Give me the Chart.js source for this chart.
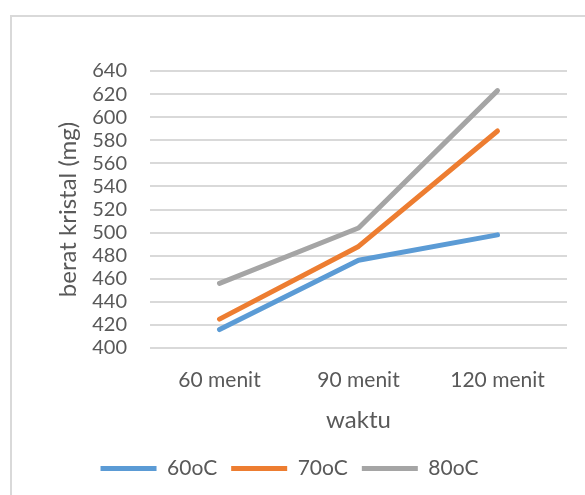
<!DOCTYPE html>
<html>
<head>
<meta charset="utf-8">
<script src="https://cdn.jsdelivr.net/npm/chart.js@4"></script>
<style>
  html, body { margin: 0; padding: 0; background: #fff; overflow: hidden; }
  body { width: 585px; height: 495px; position: relative; }
  .frame { position: absolute; left: 10px; top: 15px; width: 600px; height: 500px; border: 2px solid #d9d9d9; box-sizing: border-box; }
  .wrap { position: absolute; left: 12px; top: 17px; width: 592px; height: 478px; }
</style>
</head>
<body>
<div class="frame"></div>
<div class="wrap"><canvas id="chart"></canvas></div>
<script>
// data
const categories = ["60 menit", "90 menit", "120 menit"];
const seriesNames = ["60oC", "70oC", "80oC"];
const s60 = [416, 476, 498];
const s70 = [425, 488, 588];
const s80 = [456, 504, 623];
const colors = ["#5b9bd5", "#ed7d31", "#a5a5a5"];

const font = "Lato, 'Open Sans', sans-serif";
const txt = "#595959";

function ds(label, data, color) {
  return {
    label, data,
    borderColor: color, backgroundColor: color,
    borderWidth: 5, borderCapStyle: "round", borderJoinStyle: "round",
    pointRadius: 0, tension: 0, fill: false
  };
}

new Chart(document.getElementById("chart"), {
  type: "line",
  data: {
    labels: categories,
    datasets: [ds(seriesNames[0], s60, colors[0]), ds(seriesNames[1], s70, colors[1]), ds(seriesNames[2], s80, colors[2])]
  },
  options: {
    responsive: true,
    maintainAspectRatio: false,
    animation: false,
    layout: { padding: { top: 54, right: 37, left: 0, bottom: 6 } },
    scales: {
      x: {
        offset: true,
        grid: { display: false, drawTicks: false },
        border: { display: false },
        ticks: { color: txt, font: { family: font, size: 21 }, padding: 20 },
        title: { display: true, text: "waktu", color: txt, font: { family: font, size: 24 }, padding: { top: 10, bottom: 9 } },
        afterFit: (s) => { s.height = 96; }
      },
      y: {
        min: 400, max: 640,
        ticks: { stepSize: 20, autoSkip: false, color: txt, font: { family: font, size: 20 }, padding: 23 },
        grid: { color: "#d9d9d9", lineWidth: 2, drawTicks: false },
        border: { display: false },
        title: { display: true, text: "berat kristal (mg)", color: txt, font: { family: font, size: 24 }, padding: { top: 42, bottom: 0 } },
        afterFit: (s) => { s.width = 138; }
      }
    },
    plugins: {
      legend: {
        position: "bottom",
        labels: {
          usePointStyle: true, pointStyle: "line", pointStyleWidth: 56,
          color: txt, font: { family: font, size: 21 }, padding: 14
        }
      },
      tooltip: { enabled: false }
    }
  }
});
</script>
</body>
</html>
